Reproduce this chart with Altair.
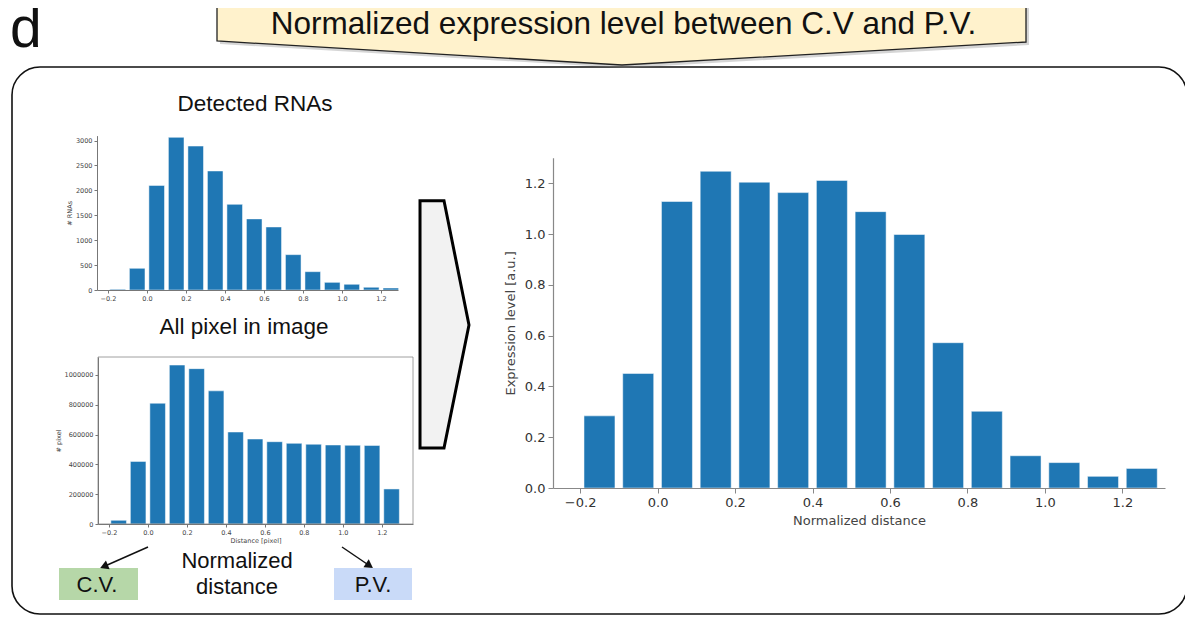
import altair as alt
import pandas as pd

# ---------------- data ----------------
bin_centers = [-0.15, -0.05, 0.05, 0.15, 0.25, 0.35, 0.45, 0.55, 0.65, 0.75, 0.85, 0.95, 1.05, 1.15, 1.25]
rna_counts = [15, 435, 2100, 3065, 2890, 2390, 1720, 1428, 1266, 710, 368, 154, 115, 55, 40]
pixel_counts = [25000, 420000, 810000, 1066000, 1042000, 893000, 617000, 570000, 552000,
                541000, 535000, 530000, 528000, 527000, 235000]
expression = [0.284, 0.451, 1.128, 1.247, 1.204, 1.163, 1.211, 1.088, 0.998,
              0.572, 0.302, 0.127, 0.100, 0.046, 0.077]
x_ticks = [-0.2, 0.0, 0.2, 0.4, 0.6, 0.8, 1.0, 1.2]
rna_ticks = [0, 500, 1000, 1500, 2000, 2500, 3000]
pixel_ticks = [0, 200000, 400000, 600000, 800000, 1000000]
expr_ticks = [0.0, 0.2, 0.4, 0.6, 0.8, 1.0, 1.2]
BAR_WIDTH = 0.08

BLUE = "#1f77b4"
W, H = 1177, 608
one = pd.DataFrame({"k": [0]})


def bar_layer(values, xdom, xrange, ydom, yrange, xaxis, yaxis):
    df = pd.DataFrame({"center": bin_centers, "value": values})
    return alt.Chart(df).transform_calculate(
        left=f"datum.center - {BAR_WIDTH / 2}",
        right=f"datum.center + {BAR_WIDTH / 2}",
    ).mark_bar(color=BLUE, stroke="white", strokeWidth=0.5).encode(
        x=alt.X("left:Q", scale=alt.Scale(domain=xdom, range=xrange, nice=False, zero=False), axis=xaxis),
        x2="right:Q",
        y=alt.Y("value:Q", scale=alt.Scale(domain=ydom, range=yrange, nice=False), axis=yaxis),
        y2=alt.datum(0),
    )


small = dict(grid=False, zindex=2, labelFontSize=6.5, labelColor="#444", labelFont="DejaVu Sans",
             titleFontSize=6.5, titleColor="#444", titleFont="DejaVu Sans", titleFontWeight="normal",
             domainColor="#777", tickColor="#777", tickSize=3, labelPadding=2)
big = dict(grid=False, zindex=2, labelFontSize=13, labelColor="#333", labelFont="DejaVu Sans",
           titleFontSize=13, titleColor="#444", titleFont="DejaVu Sans", titleFontWeight="normal",
           domainColor="#888", tickColor="#888", tickSize=5, labelPadding=3, domainWidth=1.2)

# top-left: detected RNAs
rna = bar_layer(
    rna_counts, [-0.256, 1.287], [89, 390], [0, 3100], [282, 127.6],
    alt.Axis(orient="bottom", offset=282 - H, values=x_ticks, format=".1f", title="", **small),
    alt.Axis(orient="left", offset=-89, values=rna_ticks, format="d", title="# RNAs", titlePadding=3, **small),
)

# bottom-left: all pixels
pix = bar_layer(
    pixel_counts, [-0.256, 1.36], [90, 405], [0, 1120000], [516, 349],
    alt.Axis(orient="bottom", offset=516 - H, values=x_ticks, format=".1f", title="Distance [pixel]",
             titlePadding=2, **small),
    alt.Axis(orient="left", offset=-90, values=pixel_ticks, format="d", title="# pixel", titlePadding=3, **small),
)

# right: expression
expr = bar_layer(
    expression, [-0.27, 1.31], [545, 1157], [0, 1.3], [480, 149.8],
    alt.Axis(orient="bottom", offset=480 - H, values=x_ticks, format=".1f", title="Normalized distance",
             titlePadding=5, **big),
    alt.Axis(orient="left", offset=-545, values=expr_ticks, format=".1f", title="Expression level [a.u.]",
             titlePadding=7, **big),
)

base = alt.Chart(one)

frame = base.mark_rect(fill="white", stroke="#111", strokeWidth=1.6, cornerRadius=28).encode(
    x=alt.value(4), x2=alt.value(1179), y=alt.value(59), y2=alt.value(606))

CALLOUT = "M-1,-0.0865L-1,0.0272L0.0012,0.0865L1,0.0297L1,-0.0865Z"
callout_shadow = base.mark_point(shape=CALLOUT, size=654481, filled=True, fill="#888", opacity=0.35,
                                 strokeWidth=0).encode(x=alt.value(616.5), y=alt.value(25))
callout = base.mark_point(shape=CALLOUT, size=654481, filled=True, fill="#fff2cc", stroke="#222",
                          strokeWidth=1.3, opacity=1).encode(x=alt.value(613.5), y=alt.value(22))

def text(t, x, y, size, align="center", baseline="alphabetic", color="#111"):
    return base.mark_text(text=t, font="Liberation Sans", fontSize=size, align=align,
                          baseline=baseline, color=color).encode(x=alt.value(x), y=alt.value(y))

letter = text("d", 2, 39, 57, align="left")
callout_text = text("Normalized expression level between C.V and P.V.", 615.5, 25.5, 31.5)
t_rna = text("Detected RNAs", 247, 103, 22.5)
t_pix = text("All pixel in image", 236, 326, 22.5)
t_nd1 = text("Normalized", 229, 560, 22)
t_nd2 = text("distance", 229, 586, 22)

pix_box = base.mark_rect(fillOpacity=0, stroke="#888", strokeWidth=0.8).encode(
    x=alt.value(90), x2=alt.value(405), y=alt.value(349), y2=alt.value(516))

cv_box = base.mark_rect(fill="#b6d7a8").encode(x=alt.value(51), x2=alt.value(130), y=alt.value(560), y2=alt.value(592))
pv_box = base.mark_rect(fill="#c9daf8").encode(x=alt.value(326), x2=alt.value(404), y=alt.value(560), y2=alt.value(592))
t_cv = text("C.V.", 89, 584, 22)
t_pv = text("P.V.", 365, 584, 22)

arrow1 = base.mark_rule(color="#111", strokeWidth=1.5).encode(
    x=alt.value(140), y=alt.value(539), x2=alt.value(97), y2=alt.value(558))
head1 = base.mark_point(shape="triangle-up", size=90, filled=True, color="#111", opacity=1, angle=247).encode(
    x=alt.value(96), y=alt.value(558.4))
arrow2 = base.mark_rule(color="#111", strokeWidth=1.5).encode(
    x=alt.value(334), y=alt.value(539), x2=alt.value(360.5), y2=alt.value(557))
head2 = base.mark_point(shape="triangle-up", size=90, filled=True, color="#111", opacity=1, angle=124).encode(
    x=alt.value(361.5), y=alt.value(557.6))

PENTA = "M-0.198,-1L-0.004,-1L0.198,0.005L-0.004,1L-0.198,1Z"
penta = base.mark_point(shape=PENTA, size=61157, filled=True, fill="#f2f2f2", stroke="#000",
                        strokeWidth=3, opacity=1).encode(x=alt.value(436.5), y=alt.value(316.4))

chart = alt.layer(
    frame, callout_shadow, callout, letter, callout_text,
    rna, pix, pix_box, expr,
    t_rna, t_pix, cv_box, pv_box, t_cv, t_pv, t_nd1, t_nd2,
    arrow1, head1, arrow2, head2, penta,
).resolve_scale(x="independent", y="independent").resolve_axis(
    x="independent", y="independent"
).properties(
    width=W, height=H, padding=0, autosize=alt.AutoSizeParams(type="none"), background="white"
).configure_view(stroke="transparent")

chart.save("out.html", embed_options={"renderer": "svg", "actions": False})
